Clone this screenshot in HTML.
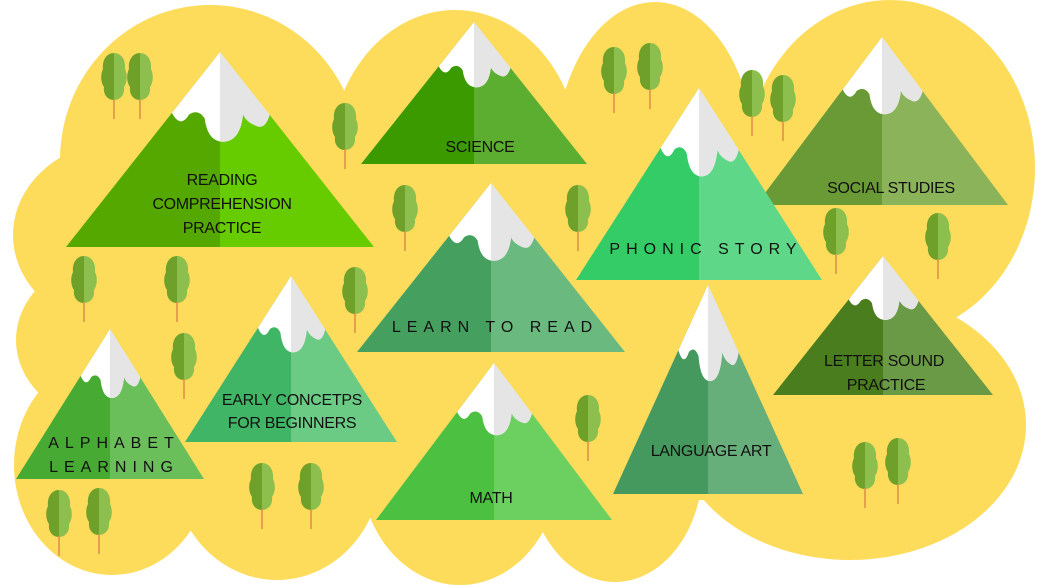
<!DOCTYPE html>
<html><head><meta charset="utf-8"><style>
html,body{margin:0;padding:0;background:#fff}
svg{display:block}
text{font-family:"Liberation Sans",sans-serif;font-size:16px;fill:#111;text-anchor:middle;letter-spacing:-0.3px}
.sp{letter-spacing:6px}
</style></head><body>
<svg width="1039" height="586" viewBox="0 0 1039 586" xmlns="http://www.w3.org/2000/svg">
<defs>
<clipPath id="tri"><path d="M0 0L1 1L-1 1Z"/></clipPath>
<clipPath id="rh"><rect x="0" y="-1" width="2" height="3"/></clipPath>
<g id="snowshape"><path d="M-1 -0.2H1V0.3L0.33 0.3Q0.3 0.4 0.24 0.38Q0.17 0.36 0.15 0.32Q0.13 0.46 0.02 0.46Q-0.08 0.46 -0.1 0.34Q-0.14 0.29 -0.2 0.32Q-0.26 0.4 -0.32 0.3L-1 0.3Z"/></g>
<g id="snow"><g clip-path="url(#tri)"><use href="#snowshape" fill="#ffffff"/><g clip-path="url(#rh)"><use href="#snowshape" fill="#e5e5e5"/></g></g></g>
<g id="tree"><path d="M0 0C-8 0 -12 8 -11 16C-14 22 -13 30 -10 34C-11 42 -6 47 0 47Z" fill="#6fa12a"/><path d="M0 0C8 0 12 8 11 16C14 22 13 30 10 34C11 42 6 47 0 47Z" fill="#8dbf4f"/><rect x="-0.8" y="46" width="1.6" height="20" fill="#e0904a"/></g>
</defs>
<g fill="#fedc5b">
<rect x="95" y="130" width="860" height="370"/>
<ellipse cx="210" cy="160" rx="150" ry="155"/>
<ellipse cx="125" cy="235" rx="112" ry="95"/>
<ellipse cx="120" cy="340" rx="104" ry="85"/>
<ellipse cx="112" cy="465" rx="98" ry="110"/>
<ellipse cx="277" cy="465" rx="105" ry="115"/>
<ellipse cx="460" cy="465" rx="100" ry="120"/>
<ellipse cx="615" cy="465" rx="88" ry="117"/>
<ellipse cx="850" cy="425" rx="176" ry="135"/>
<ellipse cx="890" cy="168" rx="145" ry="168"/>
<ellipse cx="455" cy="160" rx="125" ry="150"/>
<ellipse cx="655" cy="160" rx="100" ry="158"/>
</g>
<g>
<use href="#tree" x="114" y="53"/><use href="#tree" x="140" y="53"/><use href="#tree" x="345" y="103"/>
<use href="#tree" x="84" y="256"/><use href="#tree" x="177" y="256"/><use href="#tree" x="355" y="267"/>
<use href="#tree" x="184" y="333"/><use href="#tree" x="405" y="185"/><use href="#tree" x="578" y="185"/>
<use href="#tree" x="614" y="47"/><use href="#tree" x="650" y="43"/><use href="#tree" x="752" y="70"/>
<use href="#tree" x="783" y="75"/><use href="#tree" x="836" y="208"/><use href="#tree" x="938" y="213"/>
<use href="#tree" x="59" y="490"/><use href="#tree" x="99" y="488"/><use href="#tree" x="262" y="463"/>
<use href="#tree" x="311" y="463"/><use href="#tree" x="588" y="395"/><use href="#tree" x="865" y="442"/>
<use href="#tree" x="898" y="438"/>
</g>
<g transform="translate(220,52) scale(154,195)"><path d="M0 0L-1 1H0Z" fill="#55a800"/><path d="M0 0L1 1H0Z" fill="#66cc00"/><use href="#snow"/></g>
<g transform="translate(474,22) scale(113,142)"><path d="M0 0L-1 1H0Z" fill="#3a9a00"/><path d="M0 0L1 1H0Z" fill="#5cae30"/><use href="#snow"/></g>
<g transform="translate(882,37) scale(126,168)"><path d="M0 0L-1 1H0Z" fill="#6a9a35"/><path d="M0 0L1 1H0Z" fill="#8ab35a"/><use href="#snow"/></g>
<g transform="translate(699,88) scale(123,192)"><path d="M0 0L-1 1H0Z" fill="#33cc66"/><path d="M0 0L1 1H0Z" fill="#5ed888"/><use href="#snow"/></g>
<g transform="translate(491,183) scale(134,169)"><path d="M0 0L-1 1H0Z" fill="#45a060"/><path d="M0 0L1 1H0Z" fill="#6aba80"/><use href="#snow"/></g>
<g transform="translate(291,276) scale(106,166)"><path d="M0 0L-1 1H0Z" fill="#40b565"/><path d="M0 0L1 1H0Z" fill="#6bcb85"/><use href="#snow"/></g>
<g transform="translate(110,329) scale(94,150)"><path d="M0 0L-1 1H0Z" fill="#47aa33"/><path d="M0 0L1 1H0Z" fill="#6bbf5a"/><use href="#snow"/></g>
<g transform="translate(494,363) scale(118,157)"><path d="M0 0L-1 1H0Z" fill="#4cc040"/><path d="M0 0L1 1H0Z" fill="#6cd060"/><use href="#snow"/></g>
<g transform="translate(708,285) scale(95,209)"><path d="M0 0L-1 1H0Z" fill="#45995e"/><path d="M0 0L1 1H0Z" fill="#66af7b"/><use href="#snow"/></g>
<g transform="translate(883,256) scale(110,139)"><path d="M0 0L-1 1H0Z" fill="#4a7d1e"/><path d="M0 0L1 1H0Z" fill="#6a9a45"/><use href="#snow"/></g>
<text x="222" y="185">READING</text>
<text x="222" y="209">COMPREHENSION</text>
<text x="222" y="233">PRACTICE</text>
<text x="480" y="152">SCIENCE</text>
<text x="891" y="193">SOCIAL STUDIES</text>
<text class="sp" x="706" y="254">PHONIC  STORY</text>
<text class="sp" x="495" y="332">LEARN TO READ</text>
<text x="292" y="405">EARLY CONCETPS</text>
<text x="292" y="428">FOR BEGINNERS</text>
<text class="sp" x="114" y="448">ALPHABET</text>
<text class="sp" x="114" y="472">LEARNING</text>
<text x="491" y="503">MATH</text>
<text x="711" y="456">LANGUAGE ART</text>
<text x="884" y="366">LETTER SOUND</text>
<text x="886" y="390">PRACTICE</text>
</svg>
</body></html>
